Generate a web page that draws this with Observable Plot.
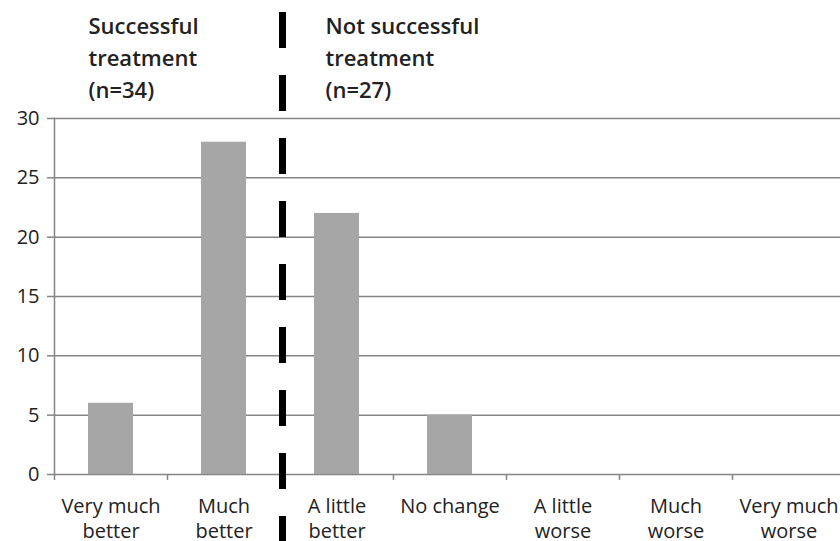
<!DOCTYPE html>
<html>
<head>
<meta charset="utf-8">
<script src="https://cdn.jsdelivr.net/npm/d3@7"></script>
<script src="https://cdn.jsdelivr.net/npm/@observablehq/plot@0.6"></script>
<style>
  html, body { margin: 0; padding: 0; background: #fff; }
  #chart { width: 840px; height: 541px; overflow: hidden; }
</style>
</head>
<body>
<div id="chart"></div>
<script>
const categories = ["Very much better", "Much better", "A little better", "No change", "A little worse", "Much worse", "Very much worse"];
const tickLabels = ["Very much\nbetter", "Much\nbetter", "A little\nbetter", "No change", "A little\nworse", "Much\nworse", "Very much\nworse"];
const counts = [6, 28, 22, 5, 0, 0, 0];
const yTicks = [0, 5, 10, 15, 20, 25, 30];
const groupLabels = ["Successful\ntreatment\n(n=34)", "Not successful\ntreatment\n(n=27)"];
const groupAnchors = ["Very much better", "A little better"];
const dividerAt = "A little better";

const data = categories.map((c, i) => ({category: c, count: counts[i], label: tickLabels[i]}));

const gray = "#858585";
const textColor = "#222";

const chart = Plot.plot({
  width: 840,
  height: 541,
  marginTop: 118,
  marginBottom: 67,
  marginLeft: 54,
  marginRight: 0,
  style: {fontFamily: "'Open Sans', sans-serif", background: "#fff", color: textColor},
  x: {domain: categories, range: [54, 845], paddingInner: 0.6, paddingOuter: 0.3, axis: null},
  y: {domain: [0, 30], axis: null},
  marks: [
    Plot.gridY(yTicks, {stroke: gray, strokeOpacity: 1, strokeWidth: 1.5}),
    Plot.frame({anchor: "left", stroke: gray, strokeWidth: 1.5}),
    Plot.axisY({ticks: yTicks, label: null, tickSize: 7, tickPadding: 8, fontSize: 20, stroke: gray, strokeWidth: 1.5, fill: textColor}),
    Plot.barY(data, {x: "category", y: "count", fill: "#a6a6a6"}),
    // category boundary ticks on x axis
    Plot.ruleX(data, {x: "category", dx: -56.5, y1: 0, y2: -0.5, stroke: gray, strokeWidth: 1.5}),
    // x labels
    Plot.text(data, {x: "category", text: "label", frameAnchor: "bottom", lineAnchor: "top", dy: 20.5, lineHeight: 1.25, fontSize: 20, fill: textColor}),
    // divider
    Plot.ruleX([dividerAt], {x: d => d, dx: -54.5, insetTop: -106, insetBottom: -67, stroke: "#000", strokeWidth: 7, strokeDasharray: "36,27"}),
    // group annotations
    Plot.text([groupLabels[0]], {x: () => groupAnchors[0], text: d => d, frameAnchor: "top", lineAnchor: "top", textAnchor: "start", dx: -22.5, dy: -107.5, fontSize: 22, fontWeight: 600, lineHeight: 1.455, fill: textColor}),
    Plot.text([groupLabels[1]], {x: () => groupAnchors[1], text: d => d, frameAnchor: "top", lineAnchor: "top", textAnchor: "start", dx: -11.5, dy: -107.5, fontSize: 22, fontWeight: 600, lineHeight: 1.455, fill: textColor})
  ]
});
document.getElementById("chart").appendChild(chart);
</script>
</body>
</html>
